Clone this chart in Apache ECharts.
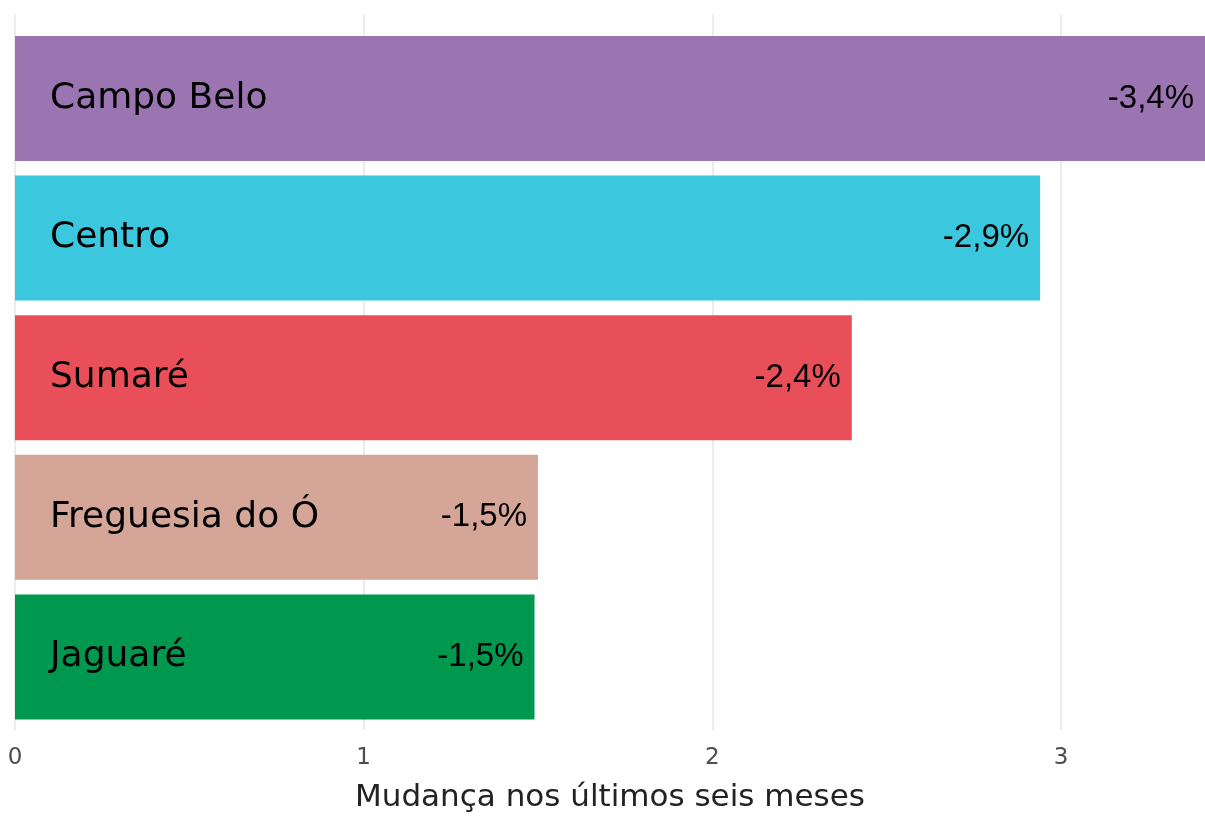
<!DOCTYPE html>
<html>
<head>
<meta charset="utf-8">
<script src="https://cdn.jsdelivr.net/npm/echarts@6/dist/echarts.min.js"></script>
<style>
	html, body { margin: 0; padding: 0; background: #fff; }
	#chart { width: 1205px; height: 818px; }
</style>
</head>
<body>
<div id="chart"></div>
<script>
	// dados
	var bairros = ['Campo Belo', 'Centro', 'Sumaré', 'Freguesia do Ó', 'Jaguaré'];
	var mudanca = [3.43, 2.94, 2.40, 1.50, 1.49];
	var rotulos = ['-3,4%', '-2,9%', '-2,4%', '-1,5%', '-1,5%'];
	var cores = ['#9a75b2', '#3bc7de', '#e94f59', '#d5a698', '#00974f'];
	var ticks = [0, 1, 2, 3];

	var xMax = 3.413;
	var fonte = 'DejaVu Sans';

	var chart = echarts.init(document.getElementById('chart'));

	var option = {
		animation: false,
		backgroundColor: '#fff',
		grid: [
			// painel com as linhas de grade
			{ left: 15, right: 0, top: 15, bottom: 78 },
			// barras
			{ left: 15, right: 0, top: 28.6, bottom: 91.2 }
		],
		xAxis: [
			{
				gridIndex: 0,
				type: 'value',
				min: 0,
				max: xMax,
				interval: 1,
				axisLine: { show: false },
				axisTick: { show: false },
				splitLine: { show: true, showMaxLine: false, lineStyle: { color: '#ebebeb', width: 2 } },
				axisLabel: {
					margin: 17,
					fontFamily: fonte,
					fontSize: 23,
					color: '#4d4d4d',
					showMaxLabel: false,
					formatter: function (v) { return ticks.indexOf(v) >= 0 ? String(v) : ''; }
				},
				name: 'Mudança nos últimos seis meses',
				nameLocation: 'middle',
				nameGap: 52,
				nameTextStyle: { fontFamily: fonte, fontSize: 31, color: '#222' }
			},
			{
				gridIndex: 1,
				type: 'value',
				min: 0,
				max: xMax,
				show: false
			}
		],
		yAxis: [
			{ gridIndex: 0, type: 'value', show: false },
			{
				gridIndex: 1,
				type: 'category',
				data: bairros,
				inverse: true,
				show: false
			}
		],
		series: [
			{
				type: 'bar',
				xAxisIndex: 1,
				yAxisIndex: 1,
				barCategoryGap: '10.5%',
				data: mudanca.map(function (v, i) {
					return { value: v, itemStyle: { color: cores[i] } };
				}),
				label: {
					show: true,
					position: 'insideRight',
					distance: 11,
					fontFamily: 'Liberation Sans',
					fontSize: 33,
					color: '#000',
					formatter: function (p) { return rotulos[p.dataIndex]; }
				}
			},
			{
				// nomes dos bairros, à esquerda dentro da barra
				type: 'bar',
				xAxisIndex: 1,
				yAxisIndex: 1,
				barGap: '-100%',
				barCategoryGap: '10.5%',
				silent: true,
				itemStyle: { color: 'rgba(0,0,0,0)' },
				data: mudanca,
				label: {
					show: true,
					position: 'insideLeft',
					distance: 35,
					fontFamily: fonte,
					fontSize: 36,
					color: '#000',
					formatter: function (p) { return bairros[p.dataIndex]; }
				}
			}
		]
	};

	chart.setOption(option);
</script>
</body>
</html>
